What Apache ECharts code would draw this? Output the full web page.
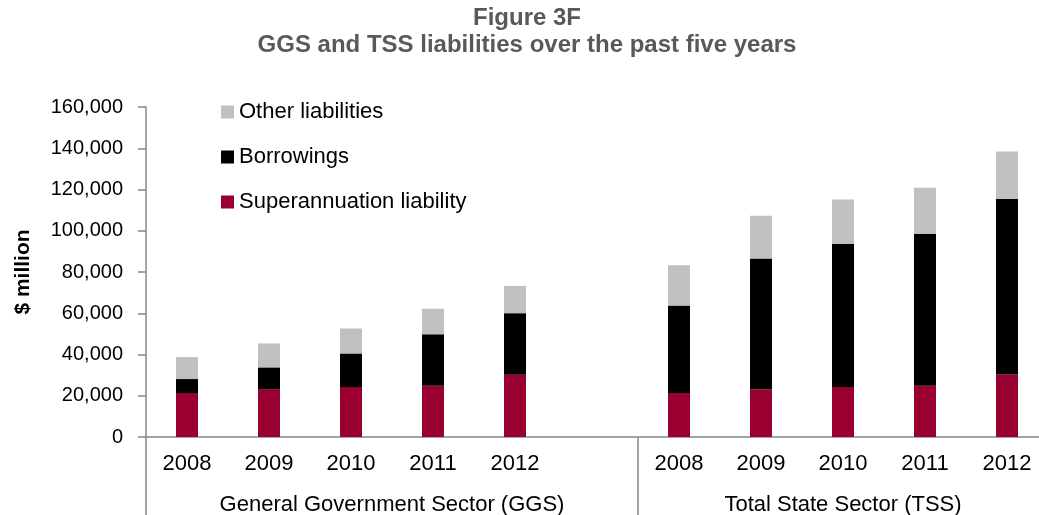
<!DOCTYPE html>
<html>
<head>
<meta charset="utf-8">
<title>Figure 3F</title>
<script src="https://cdn.jsdelivr.net/npm/echarts@6/dist/echarts.min.js"></script>
<style>
  html, body { margin: 0; padding: 0; background: #ffffff; }
  #chart { width: 1039px; height: 515px; }
</style>
</head>
<body>
<div id="chart"></div>
<script>
// Years shown under each sector group
const years = ['2008', '2009', '2010', '2011', '2012'];
const sectorLabels = ['General Government Sector (GGS)', 'Total State Sector (TSS)'];
const seriesNames = ['Superannuation liability', 'Borrowings', 'Other liabilities'];

// $ million, stacked components per year
const ggsSuper = [21300, 23100, 24200, 24800, 30200];
const ggsBorrowings = [6800, 10650, 16300, 25000, 29850];
const ggsOther = [10650, 11600, 12100, 12400, 13200];

const tssSuper = [21300, 23100, 24200, 24800, 30300];
const tssBorrowings = [42400, 63500, 69400, 73800, 85100];
const tssOther = [19600, 20700, 21500, 22300, 23000];

// y-axis tick values
const yTicks = [0, 20000, 40000, 60000, 80000, 100000, 120000, 140000, 160000];

// Category keys: GGS years, one empty spacer slot, TSS years
const categories = years.map(y => 'GGS ' + y)
  .concat(['spacer'])
  .concat(years.map(y => 'TSS ' + y));
const join = (a, b) => a.concat(['-']).concat(b);

// Group extents on a 0..categories.length scale (one unit per category slot)
const ggsEnd = years.length + 1;            // GGS years plus spacer
const tssEnd = categories.length;
const groupCentres = [ggsEnd / 2, (ggsEnd + tssEnd) / 2];

const FONT = "'Liberation Sans', Arial, sans-serif";
const AXIS_GREY = '#878787';

const chart = echarts.init(document.getElementById('chart'), null, { renderer: 'canvas' });

chart.setOption({
  animation: false,
  backgroundColor: '#ffffff',
  textStyle: { fontFamily: FONT },
  title: {
    text: 'Figure 3F\nGGS and TSS liabilities over the past five years',
    left: 527,
    top: 5,
    textAlign: 'center',
    padding: 0,
    textStyle: {
      fontFamily: FONT,
      fontWeight: 'bold',
      fontSize: 24,
      lineHeight: 27,
      color: '#595959'
    }
  },
  legend: {
    orient: 'vertical',
    left: 221,
    top: 101,
    padding: 0,
    itemGap: 23,
    itemWidth: 13,
    itemHeight: 13,
    icon: 'rect',
    data: ['Other liabilities', 'Borrowings', 'Superannuation liability'],
    textStyle: { fontFamily: FONT, fontSize: 22, lineHeight: 22, color: '#000000' }
  },
  grid: {
    left: 146, top: 107, width: 902, height: 330,
    containLabel: false,
    outerBoundsMode: 'none'
  },
  xAxis: [
    {
      type: 'category',
      data: categories,
      boundaryGap: true,
      axisLine: { show: true, lineStyle: { color: AXIS_GREY, width: 1.5 } },
      axisTick: { show: false },
      axisLabel: {
        interval: 0,
        margin: 16,
        fontFamily: FONT,
        fontSize: 22,
        color: '#000000',
        formatter: v => (v === 'spacer' ? '' : v.slice(4))
      },
      splitLine: { show: false }
    },
    {
      // sector group labels and dividers below the year labels
      type: 'value',
      position: 'bottom',
      min: 0,
      max: tssEnd,
      axisLine: { show: false },
      splitLine: { show: false },
      axisTick: {
        show: true,
        customValues: [0, ggsEnd],
        length: 80,
        lineStyle: { color: AXIS_GREY, width: 1.5 }
      },
      axisLabel: {
        show: true,
        customValues: groupCentres,
        margin: 57,
        fontFamily: FONT,
        fontSize: 22,
        color: '#000000',
        formatter: v => (v < ggsEnd ? sectorLabels[0] : sectorLabels[1])
      }
    }
  ],
  yAxis: {
    type: 'value',
    min: yTicks[0],
    max: yTicks[yTicks.length - 1],
    interval: yTicks[1] - yTicks[0],
    name: '$ million',
    nameLocation: 'middle',
    nameGap: 112,
    nameTextStyle: { fontFamily: FONT, fontWeight: 'bold', fontSize: 21, color: '#000000' },
    axisLine: { show: true, lineStyle: { color: AXIS_GREY, width: 1.5 } },
    axisTick: { show: true, length: 8, lineStyle: { color: AXIS_GREY, width: 1.5 } },
    axisLabel: {
      margin: 23,
      fontFamily: FONT,
      fontSize: 20,
      color: '#000000',
      formatter: v => v.toLocaleString('en-US')
    },
    splitLine: { show: false }
  },
  series: [
    {
      name: seriesNames[0],
      type: 'bar',
      stack: 'total',
      barWidth: 22,
      itemStyle: { color: '#990030' },
      data: join(ggsSuper, tssSuper)
    },
    {
      name: seriesNames[1],
      type: 'bar',
      stack: 'total',
      barWidth: 22,
      itemStyle: { color: '#000000' },
      data: join(ggsBorrowings, tssBorrowings)
    },
    {
      name: seriesNames[2],
      type: 'bar',
      stack: 'total',
      barWidth: 22,
      itemStyle: { color: '#c0c0c0' },
      data: join(ggsOther, tssOther)
    }
  ]
});
</script>
</body>
</html>
